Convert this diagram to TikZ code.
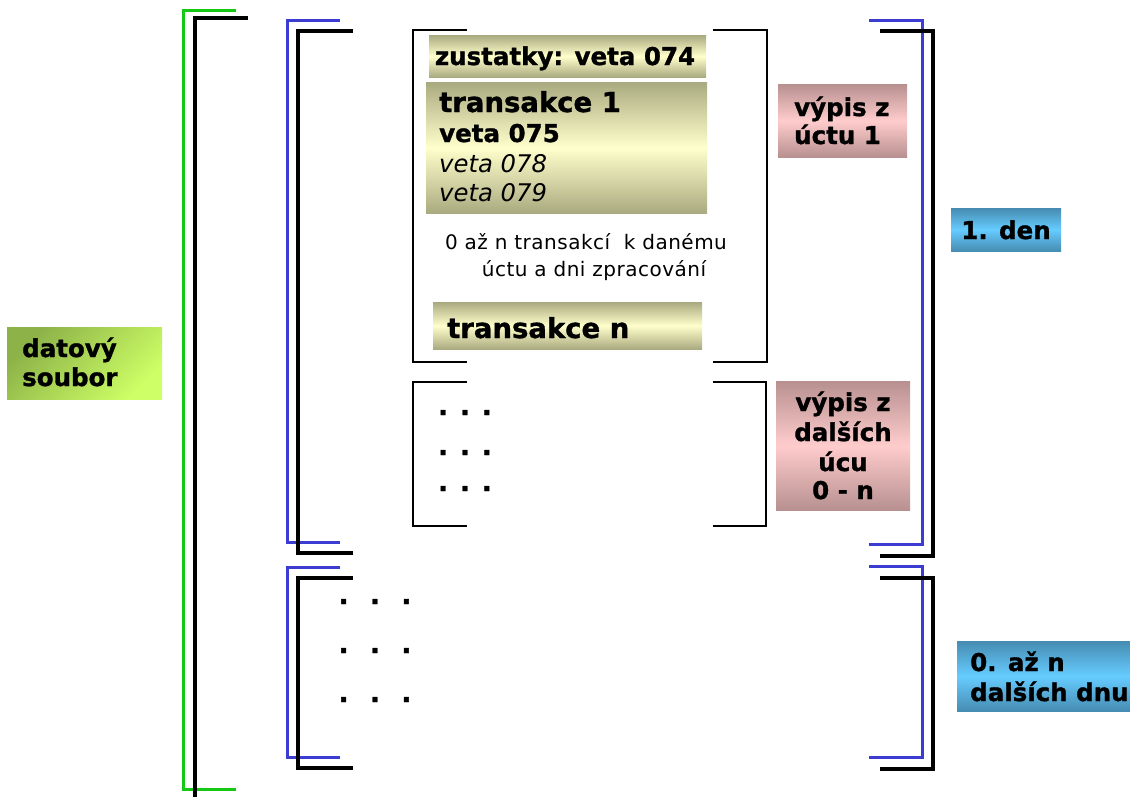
\documentclass[tikz,border=0pt]{standalone}
\usepackage{fontspec}
\setmainfont{DejaVu Sans}[BoldFeatures={FakeBold=1.2}]
\definecolor{olived}{RGB}{170,170,128}
\definecolor{olivel}{RGB}{255,255,204}
\definecolor{pinkd}{RGB}{184,144,144}
\definecolor{pinkl}{RGB}{255,204,204}
\definecolor{blued}{RGB}{70,140,178}
\definecolor{bluel}{RGB}{102,204,255}
\definecolor{greend}{RGB}{140,178,72}
\definecolor{greenl}{RGB}{206,255,102}
\definecolor{lineblue}{RGB}{60,60,210}
\definecolor{linegreen}{RGB}{20,200,20}
\begin{document}
\begin{tikzpicture}[x=1pt,y=-1pt,
  blk/.style={draw=black,line width=3.6pt},
  blkthin/.style={draw=black,line width=2.5pt},
  blu/.style={draw=lineblue,line width=3pt},
  grn/.style={draw=linegreen,line width=3pt},
  box/.style={rectangle,inner sep=0pt,anchor=north west},
  olivebox/.style={box,top color=olived,bottom color=olived,middle color=olivel},
  pinkbox/.style={box,top color=pinkd,bottom color=pinkd,middle color=pinkl},
  bluebox/.style={box,top color=blued,bottom color=blued,middle color=bluel},
  greenbox/.style={box,top color=greend,bottom color=greenl,shading angle=45},
  lbl/.style={font=\bfseries\fontsize{24.5}{29}\selectfont,inner sep=0pt,anchor=base west},
  big/.style={font=\bfseries\fontsize{27.5}{30}\selectfont,inner sep=0pt,anchor=base west},
  ital/.style={font=\itshape\fontsize{24.3}{29}\selectfont,inner sep=0pt,anchor=base west},
  note/.style={font=\fontsize{20}{27}\selectfont\addfontfeature{LetterSpace=2.5},inner sep=0pt,anchor=base},
  dots/.style={font=\bfseries\fontsize{26}{28}\selectfont,inner sep=0pt,anchor=base}
]
\useasboundingbox (0,0) rectangle (1130,796);
% outer brackets
\draw[grn] (236,10) -- (183,10) -- (183,789) -- (236,789);
\draw[blk] (248,18) -- (195,18) -- (195,800);
% left day brackets
\draw[blu] (340,20) -- (287,20) -- (287,542) -- (340,542);
\draw[blk] (353,31) -- (298,31) -- (298,553) -- (353,553);
\draw[blu] (340,567) -- (287,567) -- (287,757) -- (340,757);
\draw[blk] (353,578) -- (298,578) -- (298,768) -- (353,768);
% right day brackets
\draw[blu] (869,20) -- (922,20) -- (922,544) -- (869,544);
\draw[blk] (880,31) -- (933,31) -- (933,556) -- (880,556);
\draw[blu] (869,566) -- (922,566) -- (922,757) -- (869,757);
\draw[blk] (880,578) -- (933,578) -- (933,769) -- (880,769);
% inner account brackets
\draw[blkthin] (467,30) -- (413,30) -- (413,362) -- (467,362);
\draw[blkthin] (713,30) -- (767,30) -- (767,362) -- (713,362);
\draw[blkthin] (467,382) -- (413,382) -- (413,526) -- (467,526);
\draw[blkthin] (713,382) -- (766,382) -- (766,526) -- (713,526);
% boxes
\node[olivebox,minimum width=277pt,minimum height=42pt] (zus) at (429,35) {};
\node[lbl,anchor=base] (zust) at (565,65) {zustatky: veta 074};
\node[olivebox,minimum width=281pt,minimum height=131pt] (tr1) at (426,82) {};
\node[big] (tr1a) at (439,112) {transakce 1};
\node[lbl] (tr1b) at (439,142) {veta 075};
\node[ital] (tr1c) at (439,172) {veta 078};
\node[ital] (tr1d) at (439,201) {veta 079};
\node[note] (n1) at (586,249) {0 až n transakcí \ k danému};
\node[note] (n2) at (594,276) {úctu a dni zpracování};
\node[olivebox,minimum width=269pt,minimum height=47pt] (trn) at (433,302) {};
\node[big] (trnt) at (447,338) {transakce n};
\node[pinkbox,minimum width=129pt,minimum height=73pt] (v1) at (778,84) {};
\node[lbl] (v1a) at (794,116) {výpis z};
\node[lbl] (v1b) at (794,144) {úctu 1};
\node[pinkbox,minimum width=134pt,minimum height=129pt] (v2) at (776,381) {};
\node[lbl,anchor=base] (v2a) at (843,411) {výpis z};
\node[lbl,anchor=base] (v2b) at (843,441) {dalších};
\node[lbl,anchor=base] (v2c) at (843,471) {úcu};
\node[lbl,anchor=base] (v2d) at (843,499) {0 - n};
\node[bluebox,minimum width=110pt,minimum height=43pt] (d1) at (951,208) {};
\node[lbl,anchor=base] (d1t) at (1006,239) {1. den};
\node[bluebox,minimum width=180pt,minimum height=70pt] (d2) at (957,641) {};
\node[lbl] (d2a) at (970,671) {0. až n};
\node[lbl] (d2b) at (970,701) {dalších dnu};
\node[greenbox,minimum width=155pt,minimum height=72pt] (ds) at (7,327) {};
\node[lbl] (dsa) at (22,357) {datový};
\node[lbl] (dsb) at (22,386) {soubor};
% dots
\node[dots] (r1) at (465,415) {.\hspace{12pt}.\hspace{12pt}.};
\node[dots] (r2) at (465,455) {.\hspace{12pt}.\hspace{12pt}.};
\node[dots] (r3) at (465,491) {.\hspace{12pt}.\hspace{12pt}.};
\node[dots] (s1) at (375,604) {.\hspace{21.5pt}.\hspace{21.5pt}.};
\node[dots] (s2) at (375,653) {.\hspace{21.5pt}.\hspace{21.5pt}.};
\node[dots] (s3) at (375,702) {.\hspace{21.5pt}.\hspace{21.5pt}.};
\end{tikzpicture}
\end{document}
